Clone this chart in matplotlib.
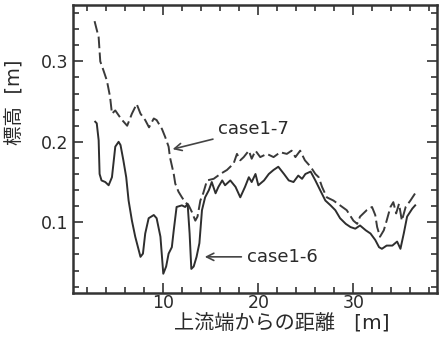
import matplotlib.pyplot as plt
from matplotlib.ticker import MultipleLocator

plt.rcParams['font.family'] = ['DejaVu Sans', 'Noto Sans CJK JP']

# case1-7 (dashed)
x7 = [2.77, 3.2, 3.37, 3.7, 4.07, 4.4, 4.6, 4.95, 5.3, 5.6, 6.2, 6.7, 7.2, 7.6, 8.1,
      8.5, 9.0, 9.3, 9.86, 10.2, 10.56, 10.7, 11.1, 11.26, 11.6, 11.96, 12.3, 12.67,
      13.0, 13.37, 13.6, 13.9, 14.2, 14.6, 15.3, 16.0, 16.7, 17.4, 17.75, 18.1, 18.46,
      19.0, 19.3, 19.7, 20.2, 20.9, 21.6, 22.3, 23.0, 23.5, 23.9, 24.4, 24.9, 25.5,
      26.0, 26.35, 26.7, 27.2, 27.9, 28.6, 29.3, 30.0, 30.4, 30.7, 31.4, 31.96, 32.3,
      32.5, 32.8, 33.2, 33.5, 33.9, 34.2, 34.5, 34.8, 35.1, 35.5, 36.0, 36.5]
y7 = [0.350, 0.330, 0.300, 0.289, 0.276, 0.256, 0.235, 0.239, 0.233, 0.228, 0.220,
      0.235, 0.247, 0.235, 0.227, 0.218, 0.229, 0.227, 0.216, 0.206, 0.194, 0.181,
      0.160, 0.148, 0.138, 0.131, 0.125, 0.121, 0.113, 0.102, 0.107, 0.127, 0.136,
      0.152, 0.154, 0.160, 0.165, 0.173, 0.185, 0.177, 0.181, 0.189, 0.179, 0.189,
      0.181, 0.185, 0.181, 0.187, 0.185, 0.189, 0.181, 0.189, 0.177, 0.169, 0.160,
      0.156, 0.144, 0.131, 0.127, 0.121, 0.115, 0.102, 0.098, 0.107, 0.115, 0.119,
      0.109, 0.094, 0.082, 0.090, 0.102, 0.119, 0.125, 0.111, 0.123, 0.102, 0.119,
      0.127, 0.136]

# case1-6 (solid)
x6 = [2.84, 3.0, 3.2, 3.3, 3.5, 3.9, 4.25, 4.6, 4.95, 5.3, 5.5, 5.8, 6.1, 6.35, 6.7,
      7.05, 7.6, 7.86, 8.1, 8.46, 9.0, 9.3, 9.7, 10.0, 10.3, 10.56, 10.9, 11.1, 11.4,
      11.96, 12.3, 12.56, 12.77, 12.95, 13.2, 13.5, 13.8, 14.07, 14.4, 14.8, 15.1,
      15.5, 15.8, 16.2, 16.5, 17.05, 17.6, 18.1, 18.6, 19.0, 19.3, 19.7, 20.0, 20.6,
      21.1, 21.6, 22.1, 22.7, 23.2, 23.7, 24.2, 24.6, 24.95, 25.5, 26.0, 26.5, 27.05,
      27.6, 28.1, 28.6, 29.2, 29.7, 30.2, 30.7, 31.3, 31.8, 32.3, 32.7, 33.0, 33.5,
      34.1, 34.6, 34.95, 35.3, 35.65, 36.2, 36.5]
y6 = [0.225, 0.223, 0.202, 0.160, 0.152, 0.150, 0.146, 0.156, 0.194, 0.200, 0.196,
      0.177, 0.156, 0.127, 0.102, 0.082, 0.057, 0.061, 0.086, 0.105, 0.109, 0.105,
      0.082, 0.036, 0.045, 0.061, 0.069, 0.090, 0.119, 0.121, 0.119, 0.123, 0.086,
      0.042, 0.045, 0.057, 0.074, 0.115, 0.131, 0.140, 0.150, 0.136, 0.144, 0.152,
      0.146, 0.152, 0.144, 0.131, 0.144, 0.156, 0.150, 0.160, 0.146, 0.152, 0.160,
      0.165, 0.169, 0.160, 0.152, 0.150, 0.158, 0.154, 0.160, 0.163, 0.152, 0.140,
      0.127, 0.121, 0.115, 0.105, 0.098, 0.094, 0.092, 0.096, 0.090, 0.086, 0.078,
      0.069, 0.067, 0.071, 0.071, 0.076, 0.067, 0.086, 0.107, 0.117, 0.121]

fig = plt.figure(figsize=(4.41, 3.38), dpi=100)
ax = fig.add_axes([0.1655, 0.133, 0.8255, 0.852])

ax.plot(x7, y7, color='#3a3a3a', lw=1.4, ls=(0, (6, 2.2)))
ax.plot(x6, y6, color='#2e2e2e', lw=1.4)

ax.set_xlim(0.5, 38.8)
ax.set_ylim(0.012, 0.37)
ax.xaxis.set_major_locator(MultipleLocator(10))
ax.xaxis.set_minor_locator(MultipleLocator(2))
ax.yaxis.set_major_locator(MultipleLocator(0.1))
ax.yaxis.set_minor_locator(MultipleLocator(0.02))
ax.tick_params(which='both', direction='in', top=True, right=True, width=1.2,
               labelsize=12.5, colors='#333333', labelcolor='#2a2a2a')
ax.tick_params(which='major', length=7)
ax.tick_params(which='minor', length=4)
ax.tick_params(axis='x', pad=1)
ax.tick_params(axis='y', pad=3)
for s in ax.spines.values():
    s.set_linewidth(1.8)
    s.set_color('#333333')

ax.annotate('case1-7', xy=(10.7, 0.19), xytext=(15.8, 0.216), fontsize=13,
            va='center', color='#2a2a2a',
            arrowprops=dict(arrowstyle='->', color='#444444', lw=1.2))
ax.annotate('case1-6', xy=(14.07, 0.057), xytext=(18.8, 0.057), fontsize=13,
            va='center', color='#2a2a2a',
            arrowprops=dict(arrowstyle='->', color='#444444', lw=1.2))

ax.set_xlabel('上流端からの距離   [m]', fontsize=14.5, color='#2a2a2a', va='top')
ax.xaxis.set_label_coords(0.574, -0.072)
ax.set_ylabel('標高  [m]', fontsize=14, color='#2a2a2a')
ax.yaxis.set_label_coords(-0.135, 0.663)

fig.savefig('out.png', dpi=100)
